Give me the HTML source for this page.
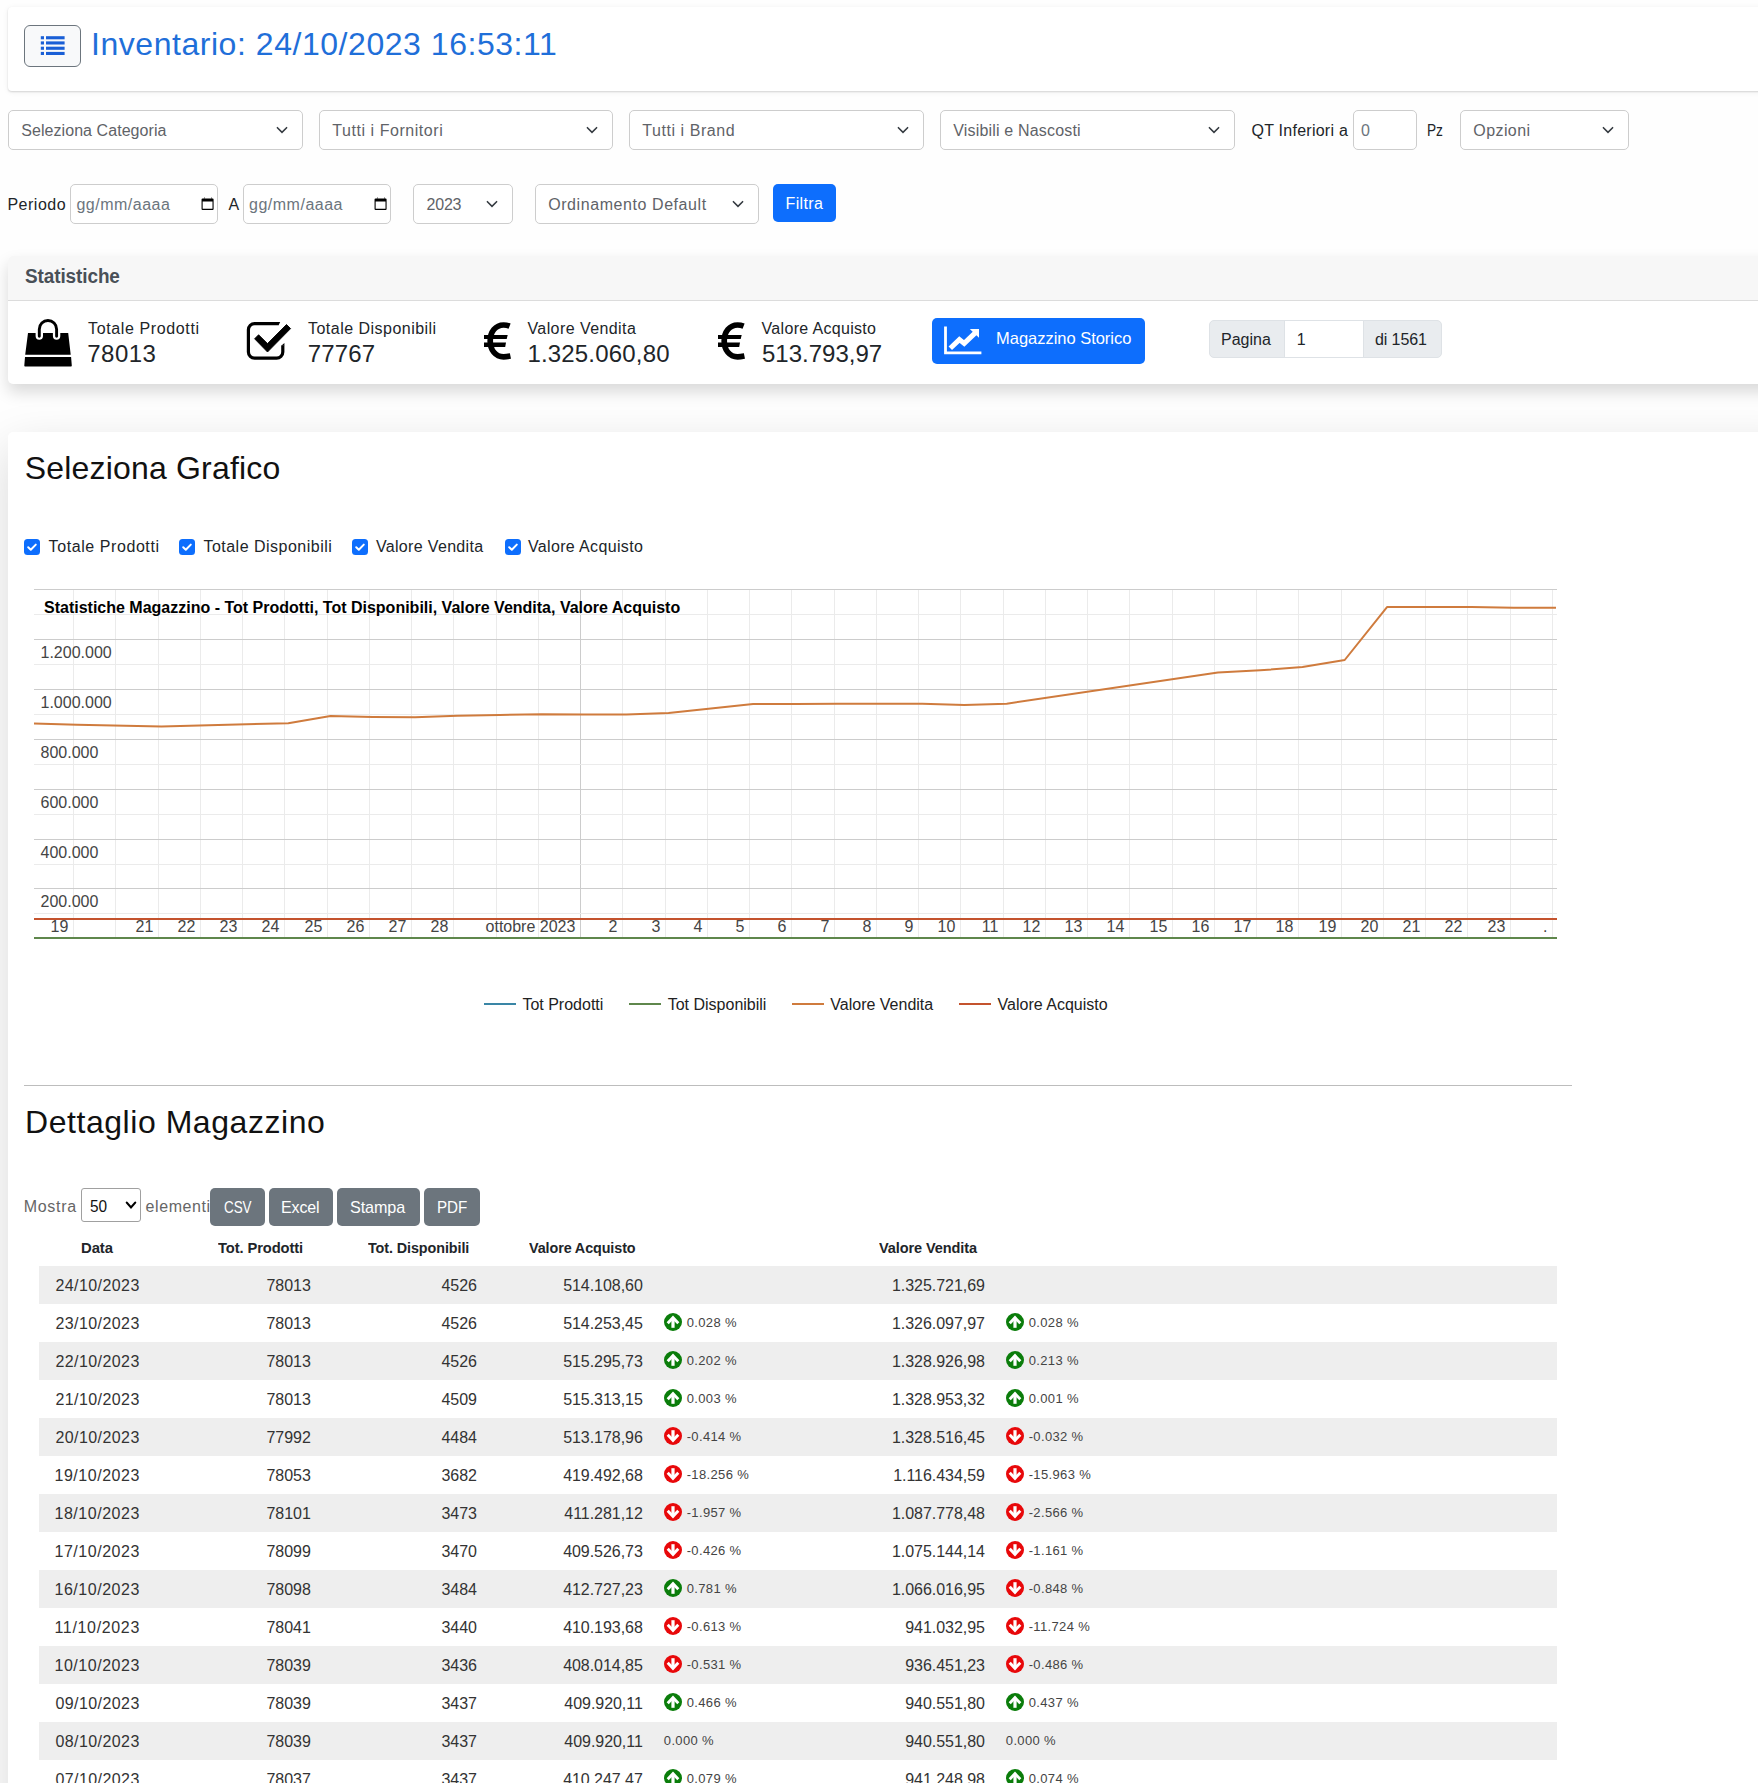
<!DOCTYPE html><html><head><meta charset="utf-8"><title>Inventario</title><style>
*{box-sizing:border-box;margin:0;padding:0}
html,body{width:1758px;height:1783px;overflow:hidden;background:#fefefe;font-family:"Liberation Sans", sans-serif;color:#212529}
.a{position:absolute}
.t{position:absolute;white-space:nowrap;line-height:1}
.card{position:absolute;background:#fff;border-radius:5px}
.sel{position:absolute;height:40px;border:1px solid #cdcdcd;border-radius:5px;background:#fff}
</style></head><body>
<div class="card" style="left:8px;top:7px;width:1800px;height:84px;border-radius:4px;box-shadow:0 1px 2px rgba(0,0,0,.14), 0 1px 6px rgba(0,0,0,.06)"></div>
<div class="a" style="left:24px;top:25px;width:57px;height:42px;border:1px solid #6c757d;border-radius:6px;background:#f8f9fa"></div>
<svg class="a" style="left:40px;top:35px" width="26" height="22" viewBox="0 0 26 22"><rect x="0.8" y="1.2" width="3.2" height="3.1" fill="#1a5fd6"/><rect x="6" y="1.2" width="18.6" height="3.1" fill="#1a5fd6"/><rect x="0.8" y="6.4" width="3.2" height="3.1" fill="#1a5fd6"/><rect x="6" y="6.4" width="18.6" height="3.1" fill="#1a5fd6"/><rect x="0.8" y="11.7" width="3.2" height="3.1" fill="#1a5fd6"/><rect x="6" y="11.7" width="18.6" height="3.1" fill="#1a5fd6"/><rect x="0.8" y="16.9" width="3.2" height="3.1" fill="#1a5fd6"/><rect x="6" y="16.9" width="18.6" height="3.1" fill="#1a5fd6"/></svg>
<div class="t" style="left:91.00px;top:28.00px;font-size:32px;color:#1f6fd9;font-weight:normal;letter-spacing:0.542px;">Inventario: 24/10/2023 16:53:11</div>
<div class="sel" style="left:8px;top:110px;width:295px"></div>
<div class="t" style="left:21.30px;top:123.20px;font-size:16px;color:#5f6368;font-weight:normal;letter-spacing:0.056px;">Seleziona Categoria</div>
<svg class="a" style="left:274.7px;top:124.6px" width="14" height="10" viewBox="0 0 14 10"><path d="M2.40 2.70 L7 7.30 L11.60 2.70" fill="none" stroke="#343a40" stroke-width="1.6" stroke-linecap="round" stroke-linejoin="miter"/></svg>
<div class="sel" style="left:319px;top:110px;width:294px"></div>
<div class="t" style="left:332.30px;top:123.20px;font-size:16px;color:#5f6368;font-weight:normal;letter-spacing:0.550px;">Tutti i Fornitori</div>
<svg class="a" style="left:584.7px;top:124.6px" width="14" height="10" viewBox="0 0 14 10"><path d="M2.40 2.70 L7 7.30 L11.60 2.70" fill="none" stroke="#343a40" stroke-width="1.6" stroke-linecap="round" stroke-linejoin="miter"/></svg>
<div class="sel" style="left:629px;top:110px;width:295px"></div>
<div class="t" style="left:642.30px;top:123.20px;font-size:16px;color:#5f6368;font-weight:normal;letter-spacing:0.553px;">Tutti i Brand</div>
<svg class="a" style="left:895.7px;top:124.6px" width="14" height="10" viewBox="0 0 14 10"><path d="M2.40 2.70 L7 7.30 L11.60 2.70" fill="none" stroke="#343a40" stroke-width="1.6" stroke-linecap="round" stroke-linejoin="miter"/></svg>
<div class="sel" style="left:940px;top:110px;width:295px"></div>
<div class="t" style="left:953.30px;top:123.20px;font-size:16px;color:#5f6368;font-weight:normal;letter-spacing:0.170px;">Visibili e Nascosti</div>
<svg class="a" style="left:1206.7px;top:124.6px" width="14" height="10" viewBox="0 0 14 10"><path d="M2.40 2.70 L7 7.30 L11.60 2.70" fill="none" stroke="#343a40" stroke-width="1.6" stroke-linecap="round" stroke-linejoin="miter"/></svg>
<div class="sel" style="left:1460px;top:110px;width:169px"></div>
<div class="t" style="left:1473.30px;top:123.20px;font-size:16px;color:#5f6368;font-weight:normal;letter-spacing:0.417px;">Opzioni</div>
<svg class="a" style="left:1600.7px;top:124.6px" width="14" height="10" viewBox="0 0 14 10"><path d="M2.40 2.70 L7 7.30 L11.60 2.70" fill="none" stroke="#343a40" stroke-width="1.6" stroke-linecap="round" stroke-linejoin="miter"/></svg>
<div class="t" style="left:1251.50px;top:123.20px;font-size:16px;color:#212529;font-weight:normal;letter-spacing:0.249px;">QT Inferiori a</div>
<div class="sel" style="left:1353px;top:110px;width:64px"></div>
<div class="t" style="left:1361.00px;top:123.20px;font-size:16px;color:#6c757d;font-weight:normal;letter-spacing:0.400px;">0</div>
<div class="t" style="left:1427.35px;top:123.20px;font-size:16px;color:#212529;font-weight:normal;letter-spacing:-0.100px;transform:scaleX(0.8536);transform-origin:0 0;">Pz</div>
<div class="t" style="left:7.40px;top:196.70px;font-size:16px;color:#212529;font-weight:normal;letter-spacing:0.508px;">Periodo</div>
<div class="sel" style="left:70px;top:184px;width:148px;height:40px"></div>
<div class="t" style="left:76.40px;top:197.00px;font-size:16px;color:#6c757d;font-weight:normal;letter-spacing:0.507px;">gg/mm/aaaa</div>
<svg class="a" style="left:200.5px;top:196px" width="14" height="16" viewBox="0 0 14 16"><path d="M1.6 2.5 H11.6 Q12.6 2.5 12.6 3.5 V12.9 Q12.6 14 11.6 14 H1.6 Q0.55 14 0.55 12.9 V3.5 Q0.55 2.5 1.6 2.5 Z M1.65 5.4 V12.8 H11.5 V5.4 Z" fill="#000" fill-rule="evenodd"/><path d="M2.8 2.6 L3.3 1.1 L3.8 2.6 Z M10.1 2.6 L10.6 1.1 L11.1 2.6 Z" fill="#000"/></svg>
<div class="sel" style="left:243px;top:184px;width:148px;height:40px"></div>
<div class="t" style="left:249.00px;top:197.00px;font-size:16px;color:#6c757d;font-weight:normal;letter-spacing:0.507px;">gg/mm/aaaa</div>
<svg class="a" style="left:373.5px;top:196px" width="14" height="16" viewBox="0 0 14 16"><path d="M1.6 2.5 H11.6 Q12.6 2.5 12.6 3.5 V12.9 Q12.6 14 11.6 14 H1.6 Q0.55 14 0.55 12.9 V3.5 Q0.55 2.5 1.6 2.5 Z M1.65 5.4 V12.8 H11.5 V5.4 Z" fill="#000" fill-rule="evenodd"/><path d="M2.8 2.6 L3.3 1.1 L3.8 2.6 Z M10.1 2.6 L10.6 1.1 L11.1 2.6 Z" fill="#000"/></svg>
<div class="t" style="left:228.60px;top:196.70px;font-size:16px;color:#212529;font-weight:normal;letter-spacing:0.400px;">A</div>
<div class="sel" style="left:413px;top:184px;width:100px;height:40px"></div>
<div class="t" style="left:426.60px;top:197.20px;font-size:16px;color:#5f6368;font-weight:normal;letter-spacing:-0.232px;">2023</div>
<svg class="a" style="left:485px;top:199px" width="14" height="10" viewBox="0 0 14 10"><path d="M2.40 2.70 L7 7.30 L11.60 2.70" fill="none" stroke="#343a40" stroke-width="1.6" stroke-linecap="round" stroke-linejoin="miter"/></svg>
<div class="sel" style="left:535px;top:184px;width:224px;height:40px"></div>
<div class="t" style="left:548.20px;top:197.20px;font-size:16px;color:#5f6368;font-weight:normal;letter-spacing:0.573px;">Ordinamento Default</div>
<svg class="a" style="left:731px;top:199px" width="14" height="10" viewBox="0 0 14 10"><path d="M2.40 2.70 L7 7.30 L11.60 2.70" fill="none" stroke="#343a40" stroke-width="1.6" stroke-linecap="round" stroke-linejoin="miter"/></svg>
<div class="a" style="left:773px;top:184px;width:63px;height:38px;background:#0d6efd;border-radius:5px"></div>
<div class="t" style="left:785.60px;top:196.00px;font-size:16px;color:#fff;font-weight:normal;letter-spacing:0.349px;">Filtra</div>
<div class="card" style="left:8px;top:256px;width:1800px;height:128px;box-shadow:0 8px 16px rgba(0,0,0,.15);overflow:hidden"><div class="a" style="left:0;top:0;width:100%;height:45px;background:#f7f7f7;border-bottom:1px solid #dcdcdc"></div></div>
<div class="t" style="left:24.60px;top:266.20px;font-size:20px;color:#495057;font-weight:bold;letter-spacing:-0.100px;transform:scaleX(0.9478);transform-origin:0 0;">Statistiche</div>
<svg class="a" style="left:18px;top:312px" width="60" height="60" viewBox="0 0 60 60"><path d="M21.3 24.3 V17.2 A8.65 8.65 0 0 1 38.6 17.2 V24.3" stroke="#000" stroke-width="2.9" fill="none" stroke-linecap="round"/><path d="M10 21 H17.6 V24 A3.7 3.7 0 0 0 25 24 V21 H34.9 V24 A3.7 3.7 0 0 0 42.3 24 V21 H50.2 L52.7 42.7 H7.2 Z" fill="#000"/><path d="M7 44.9 H53.1 L53.8 53.4 Q53.9 54.4 53 54.4 H7.1 Q6.2 54.4 6.3 53.4 Z" fill="#000"/></svg>
<div class="t" style="left:88.00px;top:321.00px;font-size:16px;color:#212529;font-weight:normal;letter-spacing:0.627px;">Totale Prodotti</div>
<div class="t" style="left:87.30px;top:342.00px;font-size:24px;color:#212529;font-weight:normal;letter-spacing:0.477px;">78013</div>
<svg class="a" style="left:240px;top:315px" width="60" height="52" viewBox="0 0 60 52"><path d="M38.2 8.6 H14.6 A6.2 6.2 0 0 0 8.4 14.8 V36.9 A6.2 6.2 0 0 0 14.6 43.1 H36.6 A6.2 6.2 0 0 0 42.8 36.9 V30.6" fill="none" stroke="#000" stroke-width="3.2"/><path d="M38 7 H40.2 L38.6 10.2 H38 Z M41.2 30.8 L44.4 28 V30.8 Z" fill="#000"/><path d="M14.6 23.8 L18.6 19.8 L27.5 28.6 L46.5 9.5 L50.6 13.6 L27.5 37 Z" fill="#000" stroke="#000" stroke-width="0.9" stroke-linejoin="round"/></svg>
<div class="t" style="left:308.00px;top:321.00px;font-size:16px;color:#212529;font-weight:normal;letter-spacing:0.476px;">Totale Disponibili</div>
<div class="t" style="left:307.80px;top:342.00px;font-size:24px;color:#212529;font-weight:normal;letter-spacing:0.127px;">77767</div>
<svg class="a" style="left:478px;top:316px" width="40" height="50" viewBox="0 0 40 50"><path d="M31.6 10.1 C29.5 9.3 27.5 9 25.6 9 C17.5 9 12.2 15.8 12.2 24.9 C12.2 34 17.5 40.8 25.6 40.8 C28.2 40.8 30.5 40.3 32.4 39.9" fill="none" stroke="#000" stroke-width="5.7"/><path d="M6 19.1 H29.7 L28.7 23 H6 Z M6 26.4 H28 L27.2 30.9 H6 Z" fill="#000"/></svg>
<div class="t" style="left:527.40px;top:321.00px;font-size:16px;color:#212529;font-weight:normal;letter-spacing:0.431px;">Valore Vendita</div>
<div class="t" style="left:527.40px;top:342.00px;font-size:24px;color:#212529;font-weight:normal;letter-spacing:0.183px;">1.325.060,80</div>
<svg class="a" style="left:712px;top:316px" width="40" height="50" viewBox="0 0 40 50"><path d="M31.6 10.1 C29.5 9.3 27.5 9 25.6 9 C17.5 9 12.2 15.8 12.2 24.9 C12.2 34 17.5 40.8 25.6 40.8 C28.2 40.8 30.5 40.3 32.4 39.9" fill="none" stroke="#000" stroke-width="5.7"/><path d="M6 19.1 H29.7 L28.7 23 H6 Z M6 26.4 H28 L27.2 30.9 H6 Z" fill="#000"/></svg>
<div class="t" style="left:761.50px;top:321.00px;font-size:16px;color:#212529;font-weight:normal;letter-spacing:0.323px;">Valore Acquisto</div>
<div class="t" style="left:762.00px;top:342.00px;font-size:24px;color:#212529;font-weight:normal;letter-spacing:0.003px;">513.793,97</div>
<div class="a" style="left:932px;top:318px;width:213px;height:46px;background:#0d6efd;border-radius:5px"></div>
<svg class="a" style="left:935px;top:318px" width="60" height="45" viewBox="0 0 60 45"><path d="M10.5 8.5 V34.9 H46.4" fill="none" stroke="#fff" stroke-width="2.8"/><path d="M15.3 30.3 L24.4 21.6 L29.2 25.4 L40.5 14.6" fill="none" stroke="#fff" stroke-width="5" stroke-linejoin="miter"/><path d="M34.8 11.1 H44 V19.8 Z" fill="#fff"/></svg>
<div class="t" style="left:996.00px;top:329.70px;font-size:16.5px;color:#fff;font-weight:normal;letter-spacing:-0.022px;">Magazzino Storico</div>
<div class="a" style="left:1209px;top:320px;width:76px;height:38px;background:#e9ecef;border:1px solid #dee2e6;border-radius:5px 0 0 5px"></div>
<div class="a" style="left:1284px;top:320px;width:80px;height:38px;background:#fff;border:1px solid #dee2e6"></div>
<div class="a" style="left:1363px;top:320px;width:79px;height:38px;background:#e9ecef;border:1px solid #dee2e6;border-radius:0 5px 5px 0"></div>
<div class="t" style="left:1221.00px;top:331.80px;font-size:16px;color:#212529;font-weight:normal;letter-spacing:0.016px;">Pagina</div>
<div class="t" style="left:1296.80px;top:331.80px;font-size:16px;color:#212529;font-weight:normal;letter-spacing:0.400px;">1</div>
<div class="t" style="left:1375.00px;top:331.80px;font-size:16px;color:#212529;font-weight:normal;letter-spacing:-0.099px;">di 1561</div>
<div class="card" style="left:8px;top:432px;width:1800px;height:1400px;box-shadow:0 16px 48px rgba(0,0,0,.15)"></div>
<div class="t" style="left:24.70px;top:452.00px;font-size:32px;color:#111;font-weight:normal;letter-spacing:0.189px;">Seleziona Grafico</div>
<svg class="a" style="left:24px;top:539px" width="16" height="16" viewBox="0 0 16 16"><rect x="0" y="0" width="16" height="16" rx="3.5" fill="#0d6efd"/><path d="M4.2 8.2 L6.8 10.7 L11.8 5.6" fill="none" stroke="#fff" stroke-width="2" stroke-linecap="round" stroke-linejoin="round"/></svg>
<div class="t" style="left:48.60px;top:539.00px;font-size:16px;color:#212529;font-weight:normal;letter-spacing:0.577px;">Totale Prodotti</div>
<svg class="a" style="left:179px;top:539px" width="16" height="16" viewBox="0 0 16 16"><rect x="0" y="0" width="16" height="16" rx="3.5" fill="#0d6efd"/><path d="M4.2 8.2 L6.8 10.7 L11.8 5.6" fill="none" stroke="#fff" stroke-width="2" stroke-linecap="round" stroke-linejoin="round"/></svg>
<div class="t" style="left:203.40px;top:539.00px;font-size:16px;color:#212529;font-weight:normal;letter-spacing:0.494px;">Totale Disponibili</div>
<svg class="a" style="left:352px;top:539px" width="16" height="16" viewBox="0 0 16 16"><rect x="0" y="0" width="16" height="16" rx="3.5" fill="#0d6efd"/><path d="M4.2 8.2 L6.8 10.7 L11.8 5.6" fill="none" stroke="#fff" stroke-width="2" stroke-linecap="round" stroke-linejoin="round"/></svg>
<div class="t" style="left:375.90px;top:539.00px;font-size:16px;color:#212529;font-weight:normal;letter-spacing:0.339px;">Valore Vendita</div>
<svg class="a" style="left:505px;top:539px" width="16" height="16" viewBox="0 0 16 16"><rect x="0" y="0" width="16" height="16" rx="3.5" fill="#0d6efd"/><path d="M4.2 8.2 L6.8 10.7 L11.8 5.6" fill="none" stroke="#fff" stroke-width="2" stroke-linecap="round" stroke-linejoin="round"/></svg>
<div class="t" style="left:527.90px;top:539.00px;font-size:16px;color:#212529;font-weight:normal;letter-spacing:0.359px;">Valore Acquisto</div>
<svg class="a" style="left:0;top:0" width="1758" height="1783" viewBox="0 0 1758 1783"><line x1="73.5" y1="589" x2="73.5" y2="938" stroke="#ebebeb" stroke-width="1"/><line x1="115.5" y1="589" x2="115.5" y2="938" stroke="#ebebeb" stroke-width="1"/><line x1="158.5" y1="589" x2="158.5" y2="938" stroke="#ebebeb" stroke-width="1"/><line x1="200.5" y1="589" x2="200.5" y2="938" stroke="#ebebeb" stroke-width="1"/><line x1="242.5" y1="589" x2="242.5" y2="938" stroke="#ebebeb" stroke-width="1"/><line x1="284.5" y1="589" x2="284.5" y2="938" stroke="#ebebeb" stroke-width="1"/><line x1="327.5" y1="589" x2="327.5" y2="938" stroke="#ebebeb" stroke-width="1"/><line x1="369.5" y1="589" x2="369.5" y2="938" stroke="#ebebeb" stroke-width="1"/><line x1="411.5" y1="589" x2="411.5" y2="938" stroke="#ebebeb" stroke-width="1"/><line x1="453.5" y1="589" x2="453.5" y2="938" stroke="#ebebeb" stroke-width="1"/><line x1="496.5" y1="589" x2="496.5" y2="938" stroke="#ebebeb" stroke-width="1"/><line x1="538.5" y1="589" x2="538.5" y2="938" stroke="#ebebeb" stroke-width="1"/><line x1="580.5" y1="589" x2="580.5" y2="938" stroke="#cccccc" stroke-width="1"/><line x1="622.5" y1="589" x2="622.5" y2="938" stroke="#ebebeb" stroke-width="1"/><line x1="665.5" y1="589" x2="665.5" y2="938" stroke="#ebebeb" stroke-width="1"/><line x1="707.5" y1="589" x2="707.5" y2="938" stroke="#ebebeb" stroke-width="1"/><line x1="749.5" y1="589" x2="749.5" y2="938" stroke="#ebebeb" stroke-width="1"/><line x1="791.5" y1="589" x2="791.5" y2="938" stroke="#ebebeb" stroke-width="1"/><line x1="834.5" y1="589" x2="834.5" y2="938" stroke="#ebebeb" stroke-width="1"/><line x1="876.5" y1="589" x2="876.5" y2="938" stroke="#ebebeb" stroke-width="1"/><line x1="918.5" y1="589" x2="918.5" y2="938" stroke="#ebebeb" stroke-width="1"/><line x1="960.5" y1="589" x2="960.5" y2="938" stroke="#ebebeb" stroke-width="1"/><line x1="1003.5" y1="589" x2="1003.5" y2="938" stroke="#ebebeb" stroke-width="1"/><line x1="1045.5" y1="589" x2="1045.5" y2="938" stroke="#ebebeb" stroke-width="1"/><line x1="1087.5" y1="589" x2="1087.5" y2="938" stroke="#ebebeb" stroke-width="1"/><line x1="1129.5" y1="589" x2="1129.5" y2="938" stroke="#ebebeb" stroke-width="1"/><line x1="1172.5" y1="589" x2="1172.5" y2="938" stroke="#ebebeb" stroke-width="1"/><line x1="1214.5" y1="589" x2="1214.5" y2="938" stroke="#ebebeb" stroke-width="1"/><line x1="1256.5" y1="589" x2="1256.5" y2="938" stroke="#ebebeb" stroke-width="1"/><line x1="1298.5" y1="589" x2="1298.5" y2="938" stroke="#ebebeb" stroke-width="1"/><line x1="1341.5" y1="589" x2="1341.5" y2="938" stroke="#ebebeb" stroke-width="1"/><line x1="1383.5" y1="589" x2="1383.5" y2="938" stroke="#ebebeb" stroke-width="1"/><line x1="1425.5" y1="589" x2="1425.5" y2="938" stroke="#ebebeb" stroke-width="1"/><line x1="1467.5" y1="589" x2="1467.5" y2="938" stroke="#ebebeb" stroke-width="1"/><line x1="1510.5" y1="589" x2="1510.5" y2="938" stroke="#ebebeb" stroke-width="1"/><line x1="1552.5" y1="589" x2="1552.5" y2="938" stroke="#ebebeb" stroke-width="1"/><line x1="34" y1="589.5" x2="1557" y2="589.5" stroke="#cccccc" stroke-width="1"/><line x1="34" y1="614.5" x2="1557" y2="614.5" stroke="#ebebeb" stroke-width="1"/><line x1="34" y1="639.5" x2="1557" y2="639.5" stroke="#cccccc" stroke-width="1"/><line x1="34" y1="664.5" x2="1557" y2="664.5" stroke="#ebebeb" stroke-width="1"/><line x1="34" y1="689.5" x2="1557" y2="689.5" stroke="#cccccc" stroke-width="1"/><line x1="34" y1="714.5" x2="1557" y2="714.5" stroke="#ebebeb" stroke-width="1"/><line x1="34" y1="739.5" x2="1557" y2="739.5" stroke="#cccccc" stroke-width="1"/><line x1="34" y1="764.5" x2="1557" y2="764.5" stroke="#ebebeb" stroke-width="1"/><line x1="34" y1="789.5" x2="1557" y2="789.5" stroke="#cccccc" stroke-width="1"/><line x1="34" y1="814.5" x2="1557" y2="814.5" stroke="#ebebeb" stroke-width="1"/><line x1="34" y1="839.5" x2="1557" y2="839.5" stroke="#cccccc" stroke-width="1"/><line x1="34" y1="864.5" x2="1557" y2="864.5" stroke="#ebebeb" stroke-width="1"/><line x1="34" y1="888.5" x2="1557" y2="888.5" stroke="#cccccc" stroke-width="1"/><line x1="34" y1="913.5" x2="1557" y2="913.5" stroke="#ebebeb" stroke-width="1"/><text x="40.5" y="658" font-family="Liberation Sans" font-size="16" fill="#444">1.200.000</text><text x="40.5" y="708" font-family="Liberation Sans" font-size="16" fill="#444">1.000.000</text><text x="40.5" y="758" font-family="Liberation Sans" font-size="16" fill="#444">800.000</text><text x="40.5" y="808" font-family="Liberation Sans" font-size="16" fill="#444">600.000</text><text x="40.5" y="858" font-family="Liberation Sans" font-size="16" fill="#444">400.000</text><text x="40.5" y="907" font-family="Liberation Sans" font-size="16" fill="#444">200.000</text><text x="44" y="613" font-family="Liberation Sans" font-size="16" font-weight="bold" fill="#000">Statistiche Magazzino - Tot Prodotti, Tot Disponibili, Valore Vendita, Valore Acquisto</text><text x="68.4" y="932" text-anchor="end" font-family="Liberation Sans" font-size="16" fill="#444">19</text><text x="153.4" y="932" text-anchor="end" font-family="Liberation Sans" font-size="16" fill="#444">21</text><text x="195.4" y="932" text-anchor="end" font-family="Liberation Sans" font-size="16" fill="#444">22</text><text x="237.4" y="932" text-anchor="end" font-family="Liberation Sans" font-size="16" fill="#444">23</text><text x="279.4" y="932" text-anchor="end" font-family="Liberation Sans" font-size="16" fill="#444">24</text><text x="322.4" y="932" text-anchor="end" font-family="Liberation Sans" font-size="16" fill="#444">25</text><text x="364.4" y="932" text-anchor="end" font-family="Liberation Sans" font-size="16" fill="#444">26</text><text x="406.4" y="932" text-anchor="end" font-family="Liberation Sans" font-size="16" fill="#444">27</text><text x="448.4" y="932" text-anchor="end" font-family="Liberation Sans" font-size="16" fill="#444">28</text><text x="575.4" y="932" text-anchor="end" font-family="Liberation Sans" font-size="16" fill="#444">ottobre 2023</text><text x="617.4" y="932" text-anchor="end" font-family="Liberation Sans" font-size="16" fill="#444">2</text><text x="660.4" y="932" text-anchor="end" font-family="Liberation Sans" font-size="16" fill="#444">3</text><text x="702.4" y="932" text-anchor="end" font-family="Liberation Sans" font-size="16" fill="#444">4</text><text x="744.4" y="932" text-anchor="end" font-family="Liberation Sans" font-size="16" fill="#444">5</text><text x="786.4" y="932" text-anchor="end" font-family="Liberation Sans" font-size="16" fill="#444">6</text><text x="829.4" y="932" text-anchor="end" font-family="Liberation Sans" font-size="16" fill="#444">7</text><text x="871.4" y="932" text-anchor="end" font-family="Liberation Sans" font-size="16" fill="#444">8</text><text x="913.4" y="932" text-anchor="end" font-family="Liberation Sans" font-size="16" fill="#444">9</text><text x="955.4" y="932" text-anchor="end" font-family="Liberation Sans" font-size="16" fill="#444">10</text><text x="998.4" y="932" text-anchor="end" font-family="Liberation Sans" font-size="16" fill="#444">11</text><text x="1040.4" y="932" text-anchor="end" font-family="Liberation Sans" font-size="16" fill="#444">12</text><text x="1082.4" y="932" text-anchor="end" font-family="Liberation Sans" font-size="16" fill="#444">13</text><text x="1124.4" y="932" text-anchor="end" font-family="Liberation Sans" font-size="16" fill="#444">14</text><text x="1167.4" y="932" text-anchor="end" font-family="Liberation Sans" font-size="16" fill="#444">15</text><text x="1209.4" y="932" text-anchor="end" font-family="Liberation Sans" font-size="16" fill="#444">16</text><text x="1251.4" y="932" text-anchor="end" font-family="Liberation Sans" font-size="16" fill="#444">17</text><text x="1293.4" y="932" text-anchor="end" font-family="Liberation Sans" font-size="16" fill="#444">18</text><text x="1336.4" y="932" text-anchor="end" font-family="Liberation Sans" font-size="16" fill="#444">19</text><text x="1378.4" y="932" text-anchor="end" font-family="Liberation Sans" font-size="16" fill="#444">20</text><text x="1420.4" y="932" text-anchor="end" font-family="Liberation Sans" font-size="16" fill="#444">21</text><text x="1462.4" y="932" text-anchor="end" font-family="Liberation Sans" font-size="16" fill="#444">22</text><text x="1505.4" y="932" text-anchor="end" font-family="Liberation Sans" font-size="16" fill="#444">23</text><text x="1547.4" y="932" text-anchor="end" font-family="Liberation Sans" font-size="16" fill="#444">.</text><line x1="34" y1="919" x2="1557" y2="919" stroke="#c4532e" stroke-width="2"/><line x1="34" y1="938" x2="1557" y2="938" stroke="#5f874c" stroke-width="2"/><path d="M34.0 723.4 L77.0 724.8 L161.5 726.4 L288.3 723.2 L330.5 716.0 L372.8 717.1 L415.1 717.3 L457.3 715.7 L499.6 715.0 L541.8 714.2 L584.1 714.5 L626.3 714.5 L668.6 713.0 L710.9 708.6 L753.1 704.1 L795.4 703.9 L837.6 703.7 L879.9 703.8 L922.1 703.8 L964.4 704.9 L1006.7 703.7 L1217.9 672.6 L1260.2 670.3 L1302.5 667.1 L1344.7 660.0 L1387.0 607.1 L1429.2 607.0 L1471.5 607.0 L1513.7 607.7 L1556.0 607.8" fill="none" stroke="#cf7b3d" stroke-width="2" stroke-linejoin="round"/><line x1="484" y1="1004" x2="516" y2="1004" stroke="#3a86a6" stroke-width="2"/><text x="522.4" y="1010" font-family="Liberation Sans" font-size="16" fill="#222">Tot Prodotti</text><line x1="629" y1="1004" x2="661" y2="1004" stroke="#5f874c" stroke-width="2"/><text x="667.7" y="1010" font-family="Liberation Sans" font-size="16" fill="#222">Tot Disponibili</text><line x1="792" y1="1004" x2="824" y2="1004" stroke="#cf7b3d" stroke-width="2"/><text x="830.3" y="1010" font-family="Liberation Sans" font-size="16" fill="#222">Valore Vendita</text><line x1="959" y1="1004" x2="991" y2="1004" stroke="#c4532e" stroke-width="2"/><text x="997.6" y="1010" font-family="Liberation Sans" font-size="16" fill="#222">Valore Acquisto</text></svg>
<div class="a" style="left:24px;top:1085px;width:1548px;height:1px;background:#bdbdbd"></div>
<div class="t" style="left:25.00px;top:1106.00px;font-size:32px;color:#111;font-weight:normal;letter-spacing:0.548px;">Dettaglio Magazzino</div>
<div class="t" style="left:23.70px;top:1199.00px;font-size:16px;color:#666;font-weight:normal;letter-spacing:0.700px;">Mostra</div>
<div class="a" style="left:81px;top:1188px;width:60px;height:34px;border:1px solid #a0a0a0;border-radius:3px;background:#fff"></div>
<div class="t" style="left:90.40px;top:1199.00px;font-size:16px;color:#111;font-weight:normal;letter-spacing:-0.100px;transform:scaleX(0.9608);transform-origin:0 0;">50</div>
<svg class="a" style="left:124px;top:1199.5px" width="14" height="10" viewBox="0 0 14 10"><path d="M2.80 2.60 L7 7.40 L11.20 2.60" fill="none" stroke="#000" stroke-width="2.2" stroke-linecap="round" stroke-linejoin="miter"/></svg>
<div class="t" style="left:145.60px;top:1199.00px;font-size:16px;color:#666;font-weight:normal;letter-spacing:0.583px;">elementi</div>
<div class="a" style="left:210px;top:1188px;width:55px;height:38px;background:#6c757d;border-radius:5px"></div>
<div class="t" style="left:224.00px;top:1199.30px;font-size:17px;color:#fff;font-weight:normal;letter-spacing:-0.100px;transform:scaleX(0.7906);transform-origin:0 0;">CSV</div>
<div class="a" style="left:269px;top:1188px;width:64px;height:38px;background:#6c757d;border-radius:5px"></div>
<div class="t" style="left:281.46px;top:1199.30px;font-size:17px;color:#fff;font-weight:normal;letter-spacing:-0.100px;transform:scaleX(0.9392);transform-origin:0 0;">Excel</div>
<div class="a" style="left:337px;top:1188px;width:83px;height:38px;background:#6c757d;border-radius:5px"></div>
<div class="t" style="left:350.40px;top:1199.30px;font-size:17px;color:#fff;font-weight:normal;letter-spacing:-0.100px;transform:scaleX(0.9500);transform-origin:0 0;">Stampa</div>
<div class="a" style="left:424px;top:1188px;width:56px;height:38px;background:#6c757d;border-radius:5px"></div>
<div class="t" style="left:436.51px;top:1199.30px;font-size:17px;color:#fff;font-weight:normal;letter-spacing:-0.100px;transform:scaleX(0.8946);transform-origin:0 0;">PDF</div>
<div class="t" style="left:80.94px;top:1239.70px;font-size:15.5px;color:#212529;font-weight:bold;letter-spacing:-0.100px;transform:scaleX(0.9579);transform-origin:0 0;">Data</div>
<div class="t" style="left:218.40px;top:1239.70px;font-size:15.5px;color:#212529;font-weight:bold;letter-spacing:-0.100px;transform:scaleX(0.9479);transform-origin:0 0;">Tot. Prodotti</div>
<div class="t" style="left:367.70px;top:1239.70px;font-size:15.5px;color:#212529;font-weight:bold;letter-spacing:-0.100px;transform:scaleX(0.9268);transform-origin:0 0;">Tot. Disponibili</div>
<div class="t" style="left:528.70px;top:1239.70px;font-size:15.5px;color:#212529;font-weight:bold;letter-spacing:-0.100px;transform:scaleX(0.9256);transform-origin:0 0;">Valore Acquisto</div>
<div class="t" style="left:878.50px;top:1239.70px;font-size:15.5px;color:#212529;font-weight:bold;letter-spacing:-0.100px;transform:scaleX(0.9367);transform-origin:0 0;">Valore Vendita</div>
<div class="a" style="left:39px;top:1266px;width:1518px;height:38px;background:#eeeeee"></div>
<div class="t" style="left:55.50px;top:1278.00px;font-size:16px;color:#333;font-weight:normal;letter-spacing:0.413px;">24/10/2023</div>
<div class="t" style="left:266.51px;top:1278.00px;font-size:16px;color:#333;font-weight:normal;letter-spacing:-0.050px;">78013</div>
<div class="t" style="left:441.45px;top:1278.00px;font-size:16px;color:#333;font-weight:normal;letter-spacing:-0.050px;">4526</div>
<div class="t" style="left:563.17px;top:1278.00px;font-size:16px;color:#333;font-weight:normal;letter-spacing:-0.050px;">514.108,60</div>
<div class="t" style="left:892.03px;top:1278.00px;font-size:16px;color:#333;font-weight:normal;letter-spacing:-0.050px;">1.325.721,69</div>
<div class="t" style="left:55.50px;top:1316.00px;font-size:16px;color:#333;font-weight:normal;letter-spacing:0.413px;">23/10/2023</div>
<div class="t" style="left:266.51px;top:1316.00px;font-size:16px;color:#333;font-weight:normal;letter-spacing:-0.050px;">78013</div>
<div class="t" style="left:441.45px;top:1316.00px;font-size:16px;color:#333;font-weight:normal;letter-spacing:-0.050px;">4526</div>
<div class="t" style="left:563.17px;top:1316.00px;font-size:16px;color:#333;font-weight:normal;letter-spacing:-0.050px;">514.253,45</div>
<div class="t" style="left:892.03px;top:1316.00px;font-size:16px;color:#333;font-weight:normal;letter-spacing:-0.050px;">1.326.097,97</div>
<svg class="a" style="left:663.5px;top:1313.4px" width="18" height="18" viewBox="-9 -9 18 18"><circle r="9" fill="#0b7d0b"/><path d="M-5.3 1.2 L0 -4.3 L5.3 1.2" fill="none" stroke="#fff" stroke-width="2.9" stroke-linejoin="miter"/><rect x="-1.6" y="-2.5" width="3.2" height="8.3" fill="#fff"/></svg>
<div class="t" style="left:686.70px;top:1315.70px;font-size:13px;color:#444;font-weight:normal;letter-spacing:0.350px;">0.028 %</div>
<svg class="a" style="left:1005.5px;top:1313.4px" width="18" height="18" viewBox="-9 -9 18 18"><circle r="9" fill="#0b7d0b"/><path d="M-5.3 1.2 L0 -4.3 L5.3 1.2" fill="none" stroke="#fff" stroke-width="2.9" stroke-linejoin="miter"/><rect x="-1.6" y="-2.5" width="3.2" height="8.3" fill="#fff"/></svg>
<div class="t" style="left:1028.70px;top:1315.70px;font-size:13px;color:#444;font-weight:normal;letter-spacing:0.350px;">0.028 %</div>
<div class="a" style="left:39px;top:1342px;width:1518px;height:38px;background:#eeeeee"></div>
<div class="t" style="left:55.50px;top:1354.00px;font-size:16px;color:#333;font-weight:normal;letter-spacing:0.413px;">22/10/2023</div>
<div class="t" style="left:266.51px;top:1354.00px;font-size:16px;color:#333;font-weight:normal;letter-spacing:-0.050px;">78013</div>
<div class="t" style="left:441.45px;top:1354.00px;font-size:16px;color:#333;font-weight:normal;letter-spacing:-0.050px;">4526</div>
<div class="t" style="left:563.17px;top:1354.00px;font-size:16px;color:#333;font-weight:normal;letter-spacing:-0.050px;">515.295,73</div>
<div class="t" style="left:892.03px;top:1354.00px;font-size:16px;color:#333;font-weight:normal;letter-spacing:-0.050px;">1.328.926,98</div>
<svg class="a" style="left:663.5px;top:1351.4px" width="18" height="18" viewBox="-9 -9 18 18"><circle r="9" fill="#0b7d0b"/><path d="M-5.3 1.2 L0 -4.3 L5.3 1.2" fill="none" stroke="#fff" stroke-width="2.9" stroke-linejoin="miter"/><rect x="-1.6" y="-2.5" width="3.2" height="8.3" fill="#fff"/></svg>
<div class="t" style="left:686.70px;top:1353.70px;font-size:13px;color:#444;font-weight:normal;letter-spacing:0.350px;">0.202 %</div>
<svg class="a" style="left:1005.5px;top:1351.4px" width="18" height="18" viewBox="-9 -9 18 18"><circle r="9" fill="#0b7d0b"/><path d="M-5.3 1.2 L0 -4.3 L5.3 1.2" fill="none" stroke="#fff" stroke-width="2.9" stroke-linejoin="miter"/><rect x="-1.6" y="-2.5" width="3.2" height="8.3" fill="#fff"/></svg>
<div class="t" style="left:1028.70px;top:1353.70px;font-size:13px;color:#444;font-weight:normal;letter-spacing:0.350px;">0.213 %</div>
<div class="t" style="left:55.50px;top:1392.00px;font-size:16px;color:#333;font-weight:normal;letter-spacing:0.413px;">21/10/2023</div>
<div class="t" style="left:266.51px;top:1392.00px;font-size:16px;color:#333;font-weight:normal;letter-spacing:-0.050px;">78013</div>
<div class="t" style="left:441.45px;top:1392.00px;font-size:16px;color:#333;font-weight:normal;letter-spacing:-0.050px;">4509</div>
<div class="t" style="left:563.17px;top:1392.00px;font-size:16px;color:#333;font-weight:normal;letter-spacing:-0.050px;">515.313,15</div>
<div class="t" style="left:892.03px;top:1392.00px;font-size:16px;color:#333;font-weight:normal;letter-spacing:-0.050px;">1.328.953,32</div>
<svg class="a" style="left:663.5px;top:1389.4px" width="18" height="18" viewBox="-9 -9 18 18"><circle r="9" fill="#0b7d0b"/><path d="M-5.3 1.2 L0 -4.3 L5.3 1.2" fill="none" stroke="#fff" stroke-width="2.9" stroke-linejoin="miter"/><rect x="-1.6" y="-2.5" width="3.2" height="8.3" fill="#fff"/></svg>
<div class="t" style="left:686.70px;top:1391.70px;font-size:13px;color:#444;font-weight:normal;letter-spacing:0.350px;">0.003 %</div>
<svg class="a" style="left:1005.5px;top:1389.4px" width="18" height="18" viewBox="-9 -9 18 18"><circle r="9" fill="#0b7d0b"/><path d="M-5.3 1.2 L0 -4.3 L5.3 1.2" fill="none" stroke="#fff" stroke-width="2.9" stroke-linejoin="miter"/><rect x="-1.6" y="-2.5" width="3.2" height="8.3" fill="#fff"/></svg>
<div class="t" style="left:1028.70px;top:1391.70px;font-size:13px;color:#444;font-weight:normal;letter-spacing:0.350px;">0.001 %</div>
<div class="a" style="left:39px;top:1418px;width:1518px;height:38px;background:#eeeeee"></div>
<div class="t" style="left:55.50px;top:1430.00px;font-size:16px;color:#333;font-weight:normal;letter-spacing:0.413px;">20/10/2023</div>
<div class="t" style="left:266.51px;top:1430.00px;font-size:16px;color:#333;font-weight:normal;letter-spacing:-0.050px;">77992</div>
<div class="t" style="left:441.45px;top:1430.00px;font-size:16px;color:#333;font-weight:normal;letter-spacing:-0.050px;">4484</div>
<div class="t" style="left:563.17px;top:1430.00px;font-size:16px;color:#333;font-weight:normal;letter-spacing:-0.050px;">513.178,96</div>
<div class="t" style="left:892.03px;top:1430.00px;font-size:16px;color:#333;font-weight:normal;letter-spacing:-0.050px;">1.328.516,45</div>
<svg class="a" style="left:663.5px;top:1427.4px" width="18" height="18" viewBox="-9 -9 18 18"><circle r="9" fill="#e8080a"/><path d="M-5.3 -1.2 L0 4.3 L5.3 -1.2" fill="none" stroke="#fff" stroke-width="2.9" stroke-linejoin="miter"/><rect x="-1.6" y="-5.8" width="3.2" height="8.3" fill="#fff"/></svg>
<div class="t" style="left:686.70px;top:1429.70px;font-size:13px;color:#444;font-weight:normal;letter-spacing:0.350px;">-0.414 %</div>
<svg class="a" style="left:1005.5px;top:1427.4px" width="18" height="18" viewBox="-9 -9 18 18"><circle r="9" fill="#e8080a"/><path d="M-5.3 -1.2 L0 4.3 L5.3 -1.2" fill="none" stroke="#fff" stroke-width="2.9" stroke-linejoin="miter"/><rect x="-1.6" y="-5.8" width="3.2" height="8.3" fill="#fff"/></svg>
<div class="t" style="left:1028.70px;top:1429.70px;font-size:13px;color:#444;font-weight:normal;letter-spacing:0.350px;">-0.032 %</div>
<div class="t" style="left:54.50px;top:1468.00px;font-size:16px;color:#333;font-weight:normal;letter-spacing:0.524px;">19/10/2023</div>
<div class="t" style="left:266.51px;top:1468.00px;font-size:16px;color:#333;font-weight:normal;letter-spacing:-0.050px;">78053</div>
<div class="t" style="left:441.45px;top:1468.00px;font-size:16px;color:#333;font-weight:normal;letter-spacing:-0.050px;">3682</div>
<div class="t" style="left:563.17px;top:1468.00px;font-size:16px;color:#333;font-weight:normal;letter-spacing:-0.050px;">419.492,68</div>
<div class="t" style="left:893.21px;top:1468.00px;font-size:16px;color:#333;font-weight:normal;letter-spacing:-0.050px;">1.116.434,59</div>
<svg class="a" style="left:663.5px;top:1465.4px" width="18" height="18" viewBox="-9 -9 18 18"><circle r="9" fill="#e8080a"/><path d="M-5.3 -1.2 L0 4.3 L5.3 -1.2" fill="none" stroke="#fff" stroke-width="2.9" stroke-linejoin="miter"/><rect x="-1.6" y="-5.8" width="3.2" height="8.3" fill="#fff"/></svg>
<div class="t" style="left:686.70px;top:1467.70px;font-size:13px;color:#444;font-weight:normal;letter-spacing:0.350px;">-18.256 %</div>
<svg class="a" style="left:1005.5px;top:1465.4px" width="18" height="18" viewBox="-9 -9 18 18"><circle r="9" fill="#e8080a"/><path d="M-5.3 -1.2 L0 4.3 L5.3 -1.2" fill="none" stroke="#fff" stroke-width="2.9" stroke-linejoin="miter"/><rect x="-1.6" y="-5.8" width="3.2" height="8.3" fill="#fff"/></svg>
<div class="t" style="left:1028.70px;top:1467.70px;font-size:13px;color:#444;font-weight:normal;letter-spacing:0.350px;">-15.963 %</div>
<div class="a" style="left:39px;top:1494px;width:1518px;height:38px;background:#eeeeee"></div>
<div class="t" style="left:54.50px;top:1506.00px;font-size:16px;color:#333;font-weight:normal;letter-spacing:0.524px;">18/10/2023</div>
<div class="t" style="left:266.51px;top:1506.00px;font-size:16px;color:#333;font-weight:normal;letter-spacing:-0.050px;">78101</div>
<div class="t" style="left:441.45px;top:1506.00px;font-size:16px;color:#333;font-weight:normal;letter-spacing:-0.050px;">3473</div>
<div class="t" style="left:564.36px;top:1506.00px;font-size:16px;color:#333;font-weight:normal;letter-spacing:-0.050px;">411.281,12</div>
<div class="t" style="left:892.03px;top:1506.00px;font-size:16px;color:#333;font-weight:normal;letter-spacing:-0.050px;">1.087.778,48</div>
<svg class="a" style="left:663.5px;top:1503.4px" width="18" height="18" viewBox="-9 -9 18 18"><circle r="9" fill="#e8080a"/><path d="M-5.3 -1.2 L0 4.3 L5.3 -1.2" fill="none" stroke="#fff" stroke-width="2.9" stroke-linejoin="miter"/><rect x="-1.6" y="-5.8" width="3.2" height="8.3" fill="#fff"/></svg>
<div class="t" style="left:686.70px;top:1505.70px;font-size:13px;color:#444;font-weight:normal;letter-spacing:0.350px;">-1.957 %</div>
<svg class="a" style="left:1005.5px;top:1503.4px" width="18" height="18" viewBox="-9 -9 18 18"><circle r="9" fill="#e8080a"/><path d="M-5.3 -1.2 L0 4.3 L5.3 -1.2" fill="none" stroke="#fff" stroke-width="2.9" stroke-linejoin="miter"/><rect x="-1.6" y="-5.8" width="3.2" height="8.3" fill="#fff"/></svg>
<div class="t" style="left:1028.70px;top:1505.70px;font-size:13px;color:#444;font-weight:normal;letter-spacing:0.350px;">-2.566 %</div>
<div class="t" style="left:54.50px;top:1544.00px;font-size:16px;color:#333;font-weight:normal;letter-spacing:0.524px;">17/10/2023</div>
<div class="t" style="left:266.51px;top:1544.00px;font-size:16px;color:#333;font-weight:normal;letter-spacing:-0.050px;">78099</div>
<div class="t" style="left:441.45px;top:1544.00px;font-size:16px;color:#333;font-weight:normal;letter-spacing:-0.050px;">3470</div>
<div class="t" style="left:563.17px;top:1544.00px;font-size:16px;color:#333;font-weight:normal;letter-spacing:-0.050px;">409.526,73</div>
<div class="t" style="left:892.03px;top:1544.00px;font-size:16px;color:#333;font-weight:normal;letter-spacing:-0.050px;">1.075.144,14</div>
<svg class="a" style="left:663.5px;top:1541.4px" width="18" height="18" viewBox="-9 -9 18 18"><circle r="9" fill="#e8080a"/><path d="M-5.3 -1.2 L0 4.3 L5.3 -1.2" fill="none" stroke="#fff" stroke-width="2.9" stroke-linejoin="miter"/><rect x="-1.6" y="-5.8" width="3.2" height="8.3" fill="#fff"/></svg>
<div class="t" style="left:686.70px;top:1543.70px;font-size:13px;color:#444;font-weight:normal;letter-spacing:0.350px;">-0.426 %</div>
<svg class="a" style="left:1005.5px;top:1541.4px" width="18" height="18" viewBox="-9 -9 18 18"><circle r="9" fill="#e8080a"/><path d="M-5.3 -1.2 L0 4.3 L5.3 -1.2" fill="none" stroke="#fff" stroke-width="2.9" stroke-linejoin="miter"/><rect x="-1.6" y="-5.8" width="3.2" height="8.3" fill="#fff"/></svg>
<div class="t" style="left:1028.70px;top:1543.70px;font-size:13px;color:#444;font-weight:normal;letter-spacing:0.350px;">-1.161 %</div>
<div class="a" style="left:39px;top:1570px;width:1518px;height:38px;background:#eeeeee"></div>
<div class="t" style="left:54.50px;top:1582.00px;font-size:16px;color:#333;font-weight:normal;letter-spacing:0.524px;">16/10/2023</div>
<div class="t" style="left:266.51px;top:1582.00px;font-size:16px;color:#333;font-weight:normal;letter-spacing:-0.050px;">78098</div>
<div class="t" style="left:441.45px;top:1582.00px;font-size:16px;color:#333;font-weight:normal;letter-spacing:-0.050px;">3484</div>
<div class="t" style="left:563.17px;top:1582.00px;font-size:16px;color:#333;font-weight:normal;letter-spacing:-0.050px;">412.727,23</div>
<div class="t" style="left:892.03px;top:1582.00px;font-size:16px;color:#333;font-weight:normal;letter-spacing:-0.050px;">1.066.016,95</div>
<svg class="a" style="left:663.5px;top:1579.4px" width="18" height="18" viewBox="-9 -9 18 18"><circle r="9" fill="#0b7d0b"/><path d="M-5.3 1.2 L0 -4.3 L5.3 1.2" fill="none" stroke="#fff" stroke-width="2.9" stroke-linejoin="miter"/><rect x="-1.6" y="-2.5" width="3.2" height="8.3" fill="#fff"/></svg>
<div class="t" style="left:686.70px;top:1581.70px;font-size:13px;color:#444;font-weight:normal;letter-spacing:0.350px;">0.781 %</div>
<svg class="a" style="left:1005.5px;top:1579.4px" width="18" height="18" viewBox="-9 -9 18 18"><circle r="9" fill="#e8080a"/><path d="M-5.3 -1.2 L0 4.3 L5.3 -1.2" fill="none" stroke="#fff" stroke-width="2.9" stroke-linejoin="miter"/><rect x="-1.6" y="-5.8" width="3.2" height="8.3" fill="#fff"/></svg>
<div class="t" style="left:1028.70px;top:1581.70px;font-size:13px;color:#444;font-weight:normal;letter-spacing:0.350px;">-0.848 %</div>
<div class="t" style="left:54.50px;top:1620.00px;font-size:16px;color:#333;font-weight:normal;letter-spacing:0.656px;">11/10/2023</div>
<div class="t" style="left:266.51px;top:1620.00px;font-size:16px;color:#333;font-weight:normal;letter-spacing:-0.050px;">78041</div>
<div class="t" style="left:441.45px;top:1620.00px;font-size:16px;color:#333;font-weight:normal;letter-spacing:-0.050px;">3440</div>
<div class="t" style="left:563.17px;top:1620.00px;font-size:16px;color:#333;font-weight:normal;letter-spacing:-0.050px;">410.193,68</div>
<div class="t" style="left:905.27px;top:1620.00px;font-size:16px;color:#333;font-weight:normal;letter-spacing:-0.050px;">941.032,95</div>
<svg class="a" style="left:663.5px;top:1617.4px" width="18" height="18" viewBox="-9 -9 18 18"><circle r="9" fill="#e8080a"/><path d="M-5.3 -1.2 L0 4.3 L5.3 -1.2" fill="none" stroke="#fff" stroke-width="2.9" stroke-linejoin="miter"/><rect x="-1.6" y="-5.8" width="3.2" height="8.3" fill="#fff"/></svg>
<div class="t" style="left:686.70px;top:1619.70px;font-size:13px;color:#444;font-weight:normal;letter-spacing:0.350px;">-0.613 %</div>
<svg class="a" style="left:1005.5px;top:1617.4px" width="18" height="18" viewBox="-9 -9 18 18"><circle r="9" fill="#e8080a"/><path d="M-5.3 -1.2 L0 4.3 L5.3 -1.2" fill="none" stroke="#fff" stroke-width="2.9" stroke-linejoin="miter"/><rect x="-1.6" y="-5.8" width="3.2" height="8.3" fill="#fff"/></svg>
<div class="t" style="left:1028.70px;top:1619.70px;font-size:13px;color:#444;font-weight:normal;letter-spacing:0.350px;">-11.724 %</div>
<div class="a" style="left:39px;top:1646px;width:1518px;height:38px;background:#eeeeee"></div>
<div class="t" style="left:54.50px;top:1658.00px;font-size:16px;color:#333;font-weight:normal;letter-spacing:0.524px;">10/10/2023</div>
<div class="t" style="left:266.51px;top:1658.00px;font-size:16px;color:#333;font-weight:normal;letter-spacing:-0.050px;">78039</div>
<div class="t" style="left:441.45px;top:1658.00px;font-size:16px;color:#333;font-weight:normal;letter-spacing:-0.050px;">3436</div>
<div class="t" style="left:563.17px;top:1658.00px;font-size:16px;color:#333;font-weight:normal;letter-spacing:-0.050px;">408.014,85</div>
<div class="t" style="left:905.27px;top:1658.00px;font-size:16px;color:#333;font-weight:normal;letter-spacing:-0.050px;">936.451,23</div>
<svg class="a" style="left:663.5px;top:1655.4px" width="18" height="18" viewBox="-9 -9 18 18"><circle r="9" fill="#e8080a"/><path d="M-5.3 -1.2 L0 4.3 L5.3 -1.2" fill="none" stroke="#fff" stroke-width="2.9" stroke-linejoin="miter"/><rect x="-1.6" y="-5.8" width="3.2" height="8.3" fill="#fff"/></svg>
<div class="t" style="left:686.70px;top:1657.70px;font-size:13px;color:#444;font-weight:normal;letter-spacing:0.350px;">-0.531 %</div>
<svg class="a" style="left:1005.5px;top:1655.4px" width="18" height="18" viewBox="-9 -9 18 18"><circle r="9" fill="#e8080a"/><path d="M-5.3 -1.2 L0 4.3 L5.3 -1.2" fill="none" stroke="#fff" stroke-width="2.9" stroke-linejoin="miter"/><rect x="-1.6" y="-5.8" width="3.2" height="8.3" fill="#fff"/></svg>
<div class="t" style="left:1028.70px;top:1657.70px;font-size:13px;color:#444;font-weight:normal;letter-spacing:0.350px;">-0.486 %</div>
<div class="t" style="left:55.50px;top:1696.00px;font-size:16px;color:#333;font-weight:normal;letter-spacing:0.413px;">09/10/2023</div>
<div class="t" style="left:266.51px;top:1696.00px;font-size:16px;color:#333;font-weight:normal;letter-spacing:-0.050px;">78039</div>
<div class="t" style="left:441.45px;top:1696.00px;font-size:16px;color:#333;font-weight:normal;letter-spacing:-0.050px;">3437</div>
<div class="t" style="left:564.36px;top:1696.00px;font-size:16px;color:#333;font-weight:normal;letter-spacing:-0.050px;">409.920,11</div>
<div class="t" style="left:905.27px;top:1696.00px;font-size:16px;color:#333;font-weight:normal;letter-spacing:-0.050px;">940.551,80</div>
<svg class="a" style="left:663.5px;top:1693.4px" width="18" height="18" viewBox="-9 -9 18 18"><circle r="9" fill="#0b7d0b"/><path d="M-5.3 1.2 L0 -4.3 L5.3 1.2" fill="none" stroke="#fff" stroke-width="2.9" stroke-linejoin="miter"/><rect x="-1.6" y="-2.5" width="3.2" height="8.3" fill="#fff"/></svg>
<div class="t" style="left:686.70px;top:1695.70px;font-size:13px;color:#444;font-weight:normal;letter-spacing:0.350px;">0.466 %</div>
<svg class="a" style="left:1005.5px;top:1693.4px" width="18" height="18" viewBox="-9 -9 18 18"><circle r="9" fill="#0b7d0b"/><path d="M-5.3 1.2 L0 -4.3 L5.3 1.2" fill="none" stroke="#fff" stroke-width="2.9" stroke-linejoin="miter"/><rect x="-1.6" y="-2.5" width="3.2" height="8.3" fill="#fff"/></svg>
<div class="t" style="left:1028.70px;top:1695.70px;font-size:13px;color:#444;font-weight:normal;letter-spacing:0.350px;">0.437 %</div>
<div class="a" style="left:39px;top:1722px;width:1518px;height:38px;background:#eeeeee"></div>
<div class="t" style="left:55.50px;top:1734.00px;font-size:16px;color:#333;font-weight:normal;letter-spacing:0.413px;">08/10/2023</div>
<div class="t" style="left:266.51px;top:1734.00px;font-size:16px;color:#333;font-weight:normal;letter-spacing:-0.050px;">78039</div>
<div class="t" style="left:441.45px;top:1734.00px;font-size:16px;color:#333;font-weight:normal;letter-spacing:-0.050px;">3437</div>
<div class="t" style="left:564.36px;top:1734.00px;font-size:16px;color:#333;font-weight:normal;letter-spacing:-0.050px;">409.920,11</div>
<div class="t" style="left:905.27px;top:1734.00px;font-size:16px;color:#333;font-weight:normal;letter-spacing:-0.050px;">940.551,80</div>
<div class="t" style="left:663.80px;top:1733.70px;font-size:13px;color:#444;font-weight:normal;letter-spacing:0.350px;">0.000 %</div>
<div class="t" style="left:1005.80px;top:1733.70px;font-size:13px;color:#444;font-weight:normal;letter-spacing:0.350px;">0.000 %</div>
<div class="t" style="left:55.50px;top:1772.00px;font-size:16px;color:#333;font-weight:normal;letter-spacing:0.413px;">07/10/2023</div>
<div class="t" style="left:266.51px;top:1772.00px;font-size:16px;color:#333;font-weight:normal;letter-spacing:-0.050px;">78037</div>
<div class="t" style="left:441.45px;top:1772.00px;font-size:16px;color:#333;font-weight:normal;letter-spacing:-0.050px;">3437</div>
<div class="t" style="left:563.17px;top:1772.00px;font-size:16px;color:#333;font-weight:normal;letter-spacing:-0.050px;">410.247,47</div>
<div class="t" style="left:905.27px;top:1772.00px;font-size:16px;color:#333;font-weight:normal;letter-spacing:-0.050px;">941.248,98</div>
<svg class="a" style="left:663.5px;top:1769.4px" width="18" height="18" viewBox="-9 -9 18 18"><circle r="9" fill="#0b7d0b"/><path d="M-5.3 1.2 L0 -4.3 L5.3 1.2" fill="none" stroke="#fff" stroke-width="2.9" stroke-linejoin="miter"/><rect x="-1.6" y="-2.5" width="3.2" height="8.3" fill="#fff"/></svg>
<div class="t" style="left:686.70px;top:1771.70px;font-size:13px;color:#444;font-weight:normal;letter-spacing:0.350px;">0.079 %</div>
<svg class="a" style="left:1005.5px;top:1769.4px" width="18" height="18" viewBox="-9 -9 18 18"><circle r="9" fill="#0b7d0b"/><path d="M-5.3 1.2 L0 -4.3 L5.3 1.2" fill="none" stroke="#fff" stroke-width="2.9" stroke-linejoin="miter"/><rect x="-1.6" y="-2.5" width="3.2" height="8.3" fill="#fff"/></svg>
<div class="t" style="left:1028.70px;top:1771.70px;font-size:13px;color:#444;font-weight:normal;letter-spacing:0.350px;">0.074 %</div>
</body></html>
